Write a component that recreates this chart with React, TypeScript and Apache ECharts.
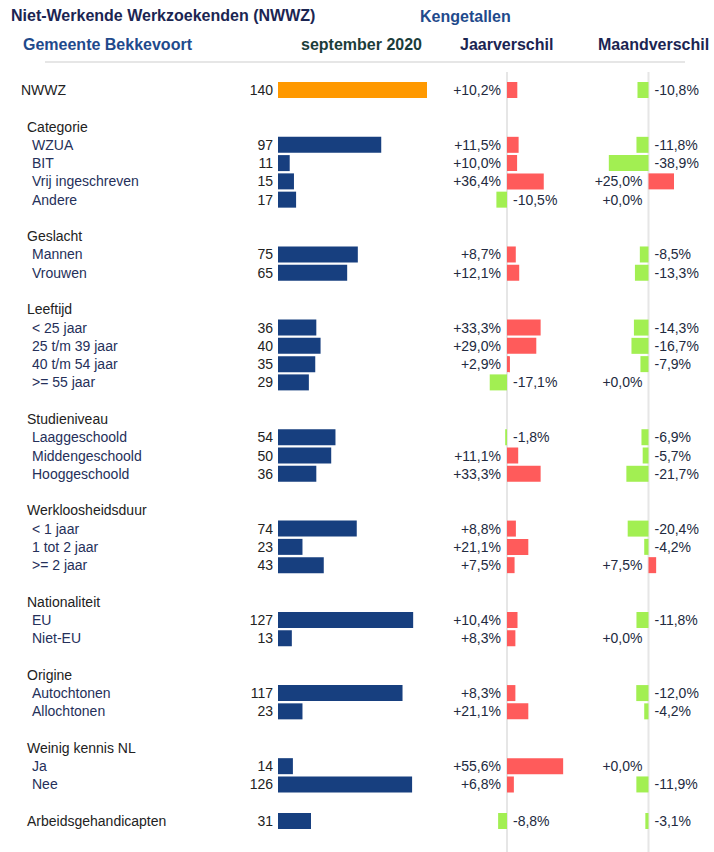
import React, { useEffect, useRef } from "react";
import * as echarts from "echarts";

// level: 0 = total, 1 = section header, 2 = item, -1 = blank row
const rowLabels = [
  "NWWZ", "",
  "Categorie", "WZUA", "BIT", "Vrij ingeschreven", "Andere", "",
  "Geslacht", "Mannen", "Vrouwen", "",
  "Leeftijd", "< 25 jaar", "25 t/m 39 jaar", "40 t/m 54 jaar", ">= 55 jaar", "",
  "Studieniveau", "Laaggeschoold", "Middengeschoold", "Hooggeschoold", "",
  "Werkloosheidsduur", "< 1 jaar", "1 tot 2 jaar", ">= 2 jaar", "",
  "Nationaliteit", "EU", "Niet-EU", "",
  "Origine", "Autochtonen", "Allochtonen", "",
  "Weinig kennis NL", "Ja", "Nee", "",
  "Arbeidsgehandicapten",
];
const rowLevels = [
  0, -1,
  1, 2, 2, 2, 2, -1,
  1, 2, 2, -1,
  1, 2, 2, 2, 2, -1,
  1, 2, 2, 2, -1,
  1, 2, 2, 2, -1,
  1, 2, 2, -1,
  1, 2, 2, -1,
  1, 2, 2, -1,
  1,
];
const aantal = [
  140, null,
  null, 97, 11, 15, 17, null,
  null, 75, 65, null,
  null, 36, 40, 35, 29, null,
  null, 54, 50, 36, null,
  null, 74, 23, 43, null,
  null, 127, 13, null,
  null, 117, 23, null,
  null, 14, 126, null,
  31,
];
const jaarverschil = [
  10.2, null,
  null, 11.5, 10.0, 36.4, -10.5, null,
  null, 8.7, 12.1, null,
  null, 33.3, 29.0, 2.9, -17.1, null,
  null, -1.8, 11.1, 33.3, null,
  null, 8.8, 21.1, 7.5, null,
  null, 10.4, 8.3, null,
  null, 8.3, 21.1, null,
  null, 55.6, 6.8, null,
  -8.8,
];
const maandverschil = [
  -10.8, null,
  null, -11.8, -38.9, 25.0, 0.0, null,
  null, -8.5, -13.3, null,
  null, -14.3, -16.7, -7.9, 0.0, null,
  null, -6.9, -5.7, -21.7, null,
  null, -20.4, -4.2, 7.5, null,
  null, -11.8, 0.0, null,
  null, -12.0, -4.2, null,
  null, 0.0, -11.9, null,
  -3.1,
];

const FONT = "'Liberation Sans', Arial, sans-serif";
const BLUE = "#173f7f";
const ORANGE = "#ff9900";
const RED = "#ff5b5b";
const GREEN = "#a2ef52";
const TXT = "#222a40";

const ROWS = rowLabels.length;
const ROW_H = 18.275;
const GRID_TOP = 90 - ROW_H / 2;
const GRID_H = ROW_H * ROWS;

const keys = rowLabels.map((_, i) => "r" + i);

const fmtPct = (v: number) =>
  (v >= 0 ? "+" : "-") + Math.abs(v).toFixed(1).replace(".", ",") + "%";

const diffData = (arr: (number | null)[]) =>
  arr.map((v) =>
    v === null
      ? "-"
      : {
          value: v,
          itemStyle: { color: v > 0 ? RED : GREEN },
          label: { position: v >= 0 ? "left" : "right" },
        }
  );

export default function App() {
  const ref = useRef<HTMLDivElement>(null);
  useEffect(() => {
    if (!ref.current) return;
    const chart = echarts.init(ref.current, null, { renderer: "svg" });
    const yAxisBase = {
      type: "category",
      data: keys,
      inverse: true,
      axisLine: { show: false },
      axisTick: { show: false },
      splitLine: { show: false },
    };
    const xAxisBase = {
      type: "value",
      axisLine: { show: false },
      axisTick: { show: false },
      axisLabel: { show: false },
      splitLine: { show: false },
    };
    const labelBase = {
      show: true,
      fontFamily: FONT,
      fontSize: 14,
      color: TXT,
    };
    const option: any = {
      animation: false,
      grid: [
        { left: 278, width: 149, top: GRID_TOP, height: GRID_H },
        { left: 507 - 60 * 1.01, width: 120 * 1.01, top: GRID_TOP, height: GRID_H },
        { left: 648.5 - 50 * 1.02, width: 100 * 1.02, top: GRID_TOP, height: GRID_H },
      ],
      xAxis: [
        { ...xAxisBase, gridIndex: 0, min: 0, max: 140 },
        { ...xAxisBase, gridIndex: 1, min: -60, max: 60 },
        { ...xAxisBase, gridIndex: 2, min: -50, max: 50 },
      ],
      yAxis: [
        {
          ...yAxisBase,
          gridIndex: 0,
          axisLabel: {
            show: true,
            interval: 0,
            align: "left",
            margin: 278 - 21,
            formatter: (_: string, i: number) => {
              const lvl = rowLevels[i];
              const t = rowLabels[i];
              if (lvl < 0 || !t) return "";
              return "{l" + lvl + "|" + t + "}";
            },
            rich: {
              l0: { fontFamily: FONT, fontSize: 14, color: "#222222", padding: [0, 0, 0, 0] },
              l1: { fontFamily: FONT, fontSize: 14, color: "#222222", padding: [0, 0, 0, 6] },
              l2: { fontFamily: FONT, fontSize: 14, color: "#25305a", padding: [0, 0, 0, 11] },
            },
          },
        },
        { ...yAxisBase, gridIndex: 1, axisLabel: { show: false } },
        { ...yAxisBase, gridIndex: 2, axisLabel: { show: false } },
      ],
      series: [
        {
          type: "bar",
          xAxisIndex: 0,
          yAxisIndex: 0,
          barWidth: 16,
          data: aantal.map((v, i) =>
            v === null
              ? "-"
              : { value: v, itemStyle: { color: i === 0 ? ORANGE : BLUE } }
          ),
          label: { ...labelBase, position: "left", distance: 5, color: "#222222" },
        },
        {
          type: "bar",
          xAxisIndex: 1,
          yAxisIndex: 1,
          barWidth: 16,
          data: diffData(jaarverschil),
          label: {
            ...labelBase,
            distance: 6,
            formatter: (p: any) => fmtPct(p.value),
          },
        },
        {
          type: "bar",
          xAxisIndex: 2,
          yAxisIndex: 2,
          barWidth: 16,
          data: diffData(maandverschil),
          label: {
            ...labelBase,
            distance: 6,
            formatter: (p: any) => fmtPct(p.value),
          },
        },
      ],
    };
    chart.setOption(option);

    const z1 = chart.convertToPixel({ xAxisIndex: 1 }, 0) as number;
    const z2 = chart.convertToPixel({ xAxisIndex: 2 }, 0) as number;
    const head = (text: string, x: number, y: number, color: string, align = "left") => ({
      type: "text",
      x,
      y,
      style: {
        text,
        fill: color,
        font: "bold 16px " + FONT,
        textAlign: align,
        textVerticalAlign: "middle",
      },
    });
    chart.setOption({
      graphic: [
        { type: "line", z: -1, shape: { x1: z1, y1: 72, x2: z1, y2: 852 }, style: { stroke: "#e6e6e6", lineWidth: 2 } },
        { type: "line", z: -1, shape: { x1: z2, y1: 72, x2: z2, y2: 852 }, style: { stroke: "#e6e6e6", lineWidth: 2 } },
        { type: "line", z: -1, shape: { x1: 45, y1: 62, x2: 685, y2: 62 }, style: { stroke: "#e6e6e6", lineWidth: 2 } },
        head("Niet-Werkende Werkzoekenden (NWWZ)", 11, 15, "#1b2552"),
        head("Kengetallen", 420, 16, "#1f4a8c"),
        head("Gemeente Bekkevoort", 23, 44, "#1f4a8c"),
        head("september 2020", 422, 44, "#1b3d3a", "right"),
        head("Jaarverschil", 460, 44, "#1b2552"),
        head("Maandverschil", 598, 44, "#1b2552"),
      ],
    });
    return () => chart.dispose();
  }, []);
  return (
    <div
      ref={ref}
      style={{ position: "fixed", left: 0, top: 0, width: 714, height: 852, background: "#ffffff" }}
    />
  );
}
